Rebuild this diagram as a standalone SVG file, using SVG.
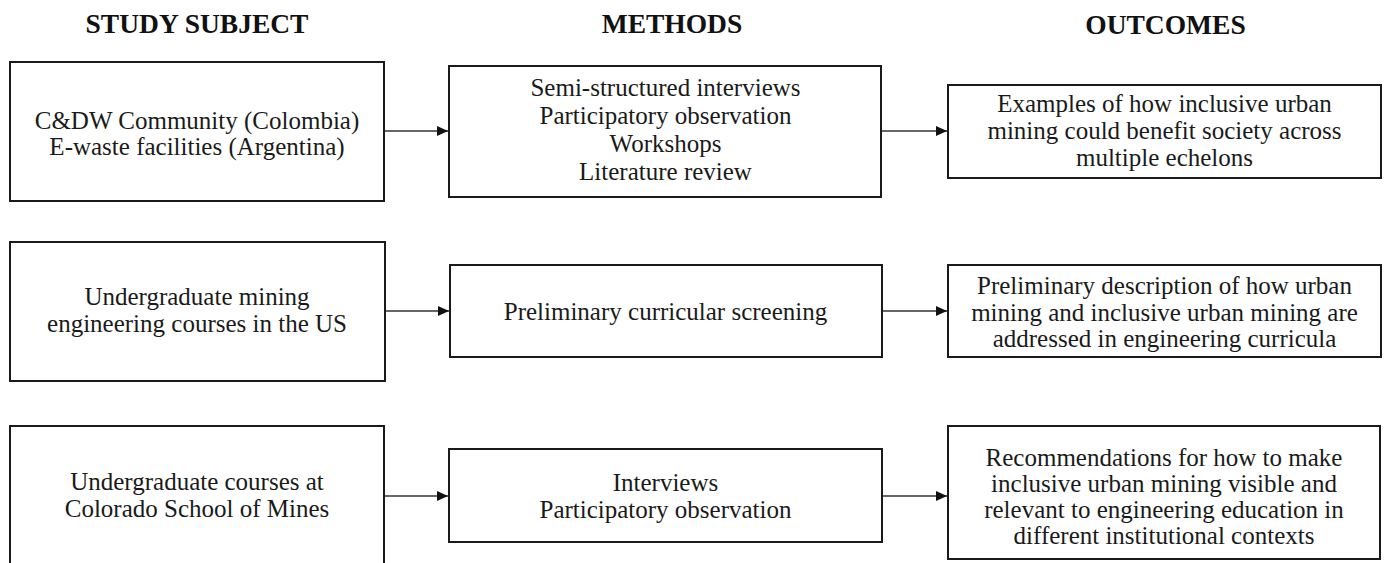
<svg xmlns="http://www.w3.org/2000/svg" width="1387" height="563" viewBox="0 0 1387 563">
<style>
  .box { fill: #ffffff; stroke: #1a1a1a; stroke-width: 2; }
  .t { font-family: "Liberation Serif", "Times New Roman", serif; font-size: 25px; fill: #1a1a1a; text-anchor: middle; }
  .h { font-family: "Liberation Serif", "Times New Roman", serif; font-size: 27.5px; font-weight: bold; fill: #111111; text-anchor: middle; }
  .conn { stroke: #333333; stroke-width: 1.4; fill: none; }
</style>
<defs>
  <marker id="arrow" markerUnits="userSpaceOnUse" markerWidth="12" markerHeight="11" refX="11" refY="5" orient="auto">
    <path d="M0,0 L11,5 L0,10 z" fill="#111111"/>
  </marker>
</defs>
<rect x="0" y="0" width="1387" height="563" fill="#ffffff"/>

<g id="headers">
  <text class="h" x="197" y="33">STUDY SUBJECT</text>
  <text class="h" x="672" y="33">METHODS</text>
  <text class="h" x="1165.5" y="34">OUTCOMES</text>
</g>

<g id="subject1">
  <rect class="box" x="10" y="62" width="374" height="139"/>
  <text class="t" x="197" y="129">C&amp;DW Community (Colombia)</text>
  <text class="t" x="197" y="154.5">E-waste facilities (Argentina)</text>
</g>
<g id="methods1">
  <rect class="box" x="449" y="66" width="432" height="131"/>
  <text class="t" x="665.5" y="96">Semi-structured interviews</text>
  <text class="t" x="665.5" y="124">Participatory observation</text>
  <text class="t" x="665.5" y="152">Workshops</text>
  <text class="t" x="665.5" y="180">Literature review</text>
</g>
<g id="outcome1">
  <rect class="box" x="948" y="85" width="433" height="93"/>
  <text class="t" x="1164.5" y="112">Examples of how inclusive urban</text>
  <text class="t" x="1164.5" y="139">mining could benefit society across</text>
  <text class="t" x="1164.5" y="166">multiple echelons</text>
</g>

<g id="subject2">
  <rect class="box" x="10" y="242" width="375" height="139"/>
  <text class="t" x="197" y="305">Undergraduate mining</text>
  <text class="t" x="197" y="331.5">engineering courses in the US</text>
</g>
<g id="methods2">
  <rect class="box" x="450" y="265" width="432" height="92"/>
  <text class="t" x="665.5" y="319.5">Preliminary curricular screening</text>
</g>
<g id="outcome2">
  <rect class="box" x="948" y="265" width="433" height="92"/>
  <text class="t" x="1164.5" y="294">Preliminary description of how urban</text>
  <text class="t" x="1164.5" y="320.5">mining and inclusive urban mining are</text>
  <text class="t" x="1164.5" y="347">addressed in engineering curricula</text>
</g>

<g id="subject3">
  <rect class="box" x="10" y="426" width="374" height="150"/>
  <text class="t" x="197" y="489.5">Undergraduate courses at</text>
  <text class="t" x="197" y="516.5">Colorado School of Mines</text>
</g>
<g id="methods3">
  <rect class="box" x="449" y="449" width="433" height="93"/>
  <text class="t" x="665.5" y="491">Interviews</text>
  <text class="t" x="665.5" y="518">Participatory observation</text>
</g>
<g id="outcome3">
  <rect class="box" x="948" y="426" width="432" height="133"/>
  <text class="t" x="1164" y="466">Recommendations for how to make</text>
  <text class="t" x="1164" y="492">inclusive urban mining visible and</text>
  <text class="t" x="1164" y="518">relevant to engineering education in</text>
  <text class="t" x="1164" y="544">different institutional contexts</text>
</g>

<g id="connectors">
  <line class="conn" x1="385" y1="131" x2="448" y2="131" marker-end="url(#arrow)"/>
  <line class="conn" x1="882" y1="131" x2="947" y2="131" marker-end="url(#arrow)"/>
  <line class="conn" x1="386" y1="311" x2="449" y2="311" marker-end="url(#arrow)"/>
  <line class="conn" x1="883" y1="311" x2="947" y2="311" marker-end="url(#arrow)"/>
  <line class="conn" x1="385" y1="496" x2="448" y2="496" marker-end="url(#arrow)"/>
  <line class="conn" x1="883" y1="496" x2="947" y2="496" marker-end="url(#arrow)"/>
</g>
</svg>
